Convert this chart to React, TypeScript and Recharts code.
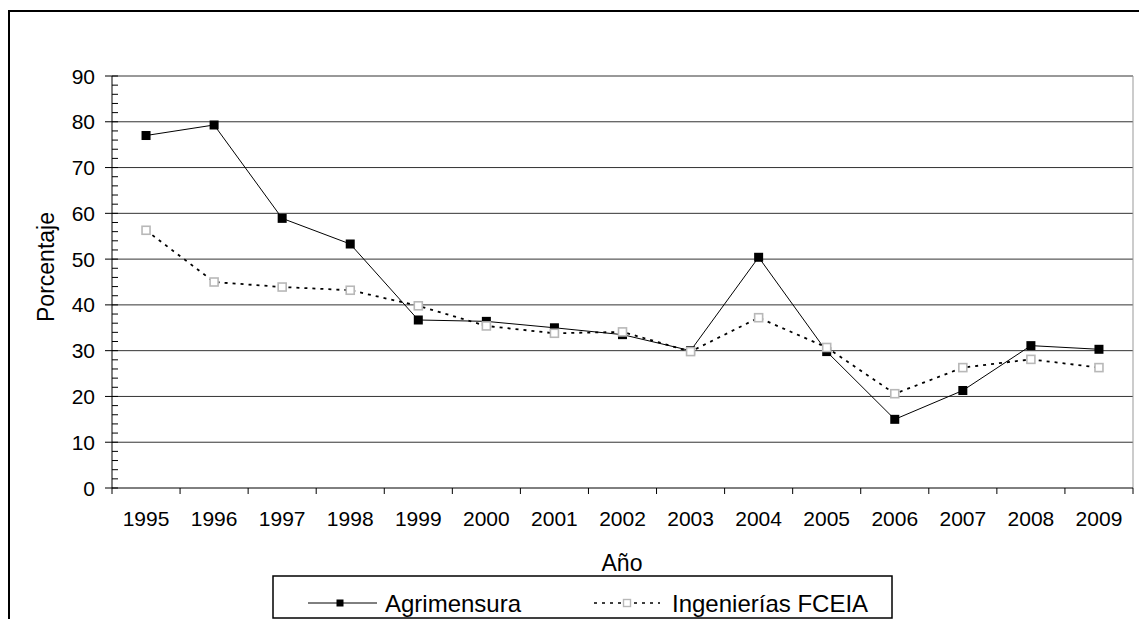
import { Line, LineChart, ReferenceLine, XAxis, YAxis } from "recharts";

const years = ["1995", "1996", "1997", "1998", "1999", "2000", "2001", "2002", "2003", "2004", "2005", "2006", "2007", "2008", "2009"];
const agrimensura = [77, 79.3, 58.9, 53.3, 36.7, 36.4, 35, 33.5, 30, 50.4, 29.8, 15, 21.3, 31.1, 30.3];
const ingenierias = [56.3, 45, 43.9, 43.2, 39.8, 35.4, 33.8, 34.1, 29.8, 37.2, 30.7, 20.6, 26.3, 28.1, 26.3];
const yTicks = [0, 10, 20, 30, 40, 50, 60, 70, 80, 90];
const minorTicks = Array.from({ length: 46 }, (_, i) => i * 2);
const xTicks = Array.from({ length: 31 }, (_, i) => i / 2);

const data = years.map((year, i) => ({ x: i + 0.5, year, agr: agrimensura[i], ing: ingenierias[i] }));

const font = "'Liberation Sans', Arial, sans-serif";

const FilledSquare = (props: any) => (
  <rect key={`a-${props.index}`} x={props.cx - 4.5} y={props.cy - 4.5} width={9} height={9} fill="#000" />
);
const HollowSquare = (props: any) => (
  <rect key={`i-${props.index}`} x={props.cx - 4} y={props.cy - 4} width={8} height={8} fill="#fff" stroke="#b8b8b8" strokeWidth={1.6} />
);

// y axis: major ticks (10s) get label + outer tick, minor ticks (2s) an inner tick
const YTick = (props: any) => {
  const { x, y, payload } = props;
  const v = payload.value;
  if (v % 10 === 0) {
    return (
      <g>
        <line x1={x - 7} x2={x + 6} y1={y} y2={y} stroke="#000" />
        <text x={x - 17} y={y} textAnchor="end" dominantBaseline="central" fontSize={21} fontFamily={font} fill="#000">{v}</text>
      </g>
    );
  }
  return <line x1={x} x2={x + 6} y1={y} y2={y} stroke="#000" />;
};

// x axis: tick marks between categories, year labels in the middle
const XTick = (props: any) => {
  const { x, y, payload } = props;
  const v = payload.value;
  if (Number.isInteger(v)) return <line x1={x} x2={x} y1={y} y2={y + 6} stroke="#000" />;
  return (
    <text x={x} y={y + 23} dy="0.71em" textAnchor="middle" fontSize={21} fontFamily={font} fill="#000">{years[Math.floor(v)]}</text>
  );
};

export default function App() {
  return (
    <div style={{ position: "relative", width: 1139, height: 619, fontFamily: font }}>
      <style>{`body{margin:0;overflow:hidden}`}</style>
      <div style={{ position: "absolute", left: 8, top: 10, width: 1140, height: 620, borderTop: "2px solid #000", borderLeft: "2px solid #000" }} />
      <div style={{ position: "absolute", left: 0, top: 0 }}>
        <LineChart width={1139} height={619} data={data} margin={{ top: 76, right: 6, bottom: 90, left: 0 }}>
          {yTicks.filter((v) => v > 0).map((v) => (
            <ReferenceLine key={v} y={v} stroke="#333" />
          ))}
          <ReferenceLine x={15} stroke="#999" />
          <XAxis dataKey="x" type="number" domain={[0, 15]} ticks={xTicks} interval={0} tickSize={0} tickMargin={0} height={41} axisLine={{ stroke: "#000" }} tickLine={false} tick={XTick} />
          <YAxis domain={[0, 90]} ticks={minorTicks} interval={0} width={112} tickSize={0} tickMargin={0} axisLine={{ stroke: "#000" }} tickLine={false} tick={YTick} />
          <Line dataKey="agr" stroke="#000" strokeWidth={1} dot={FilledSquare} activeDot={false} isAnimationActive={false} />
          <Line dataKey="ing" stroke="#000" strokeWidth={1.8} strokeDasharray="3 5" dot={HollowSquare} activeDot={false} isAnimationActive={false} />
        </LineChart>
      </div>
      <svg width={1139} height={619} style={{ position: "absolute", left: 0, top: 0, pointerEvents: "none" }}>
        <text x={46} y={267} transform="rotate(-90 46 267)" textAnchor="middle" dominantBaseline="central" fontSize={23} fontFamily={font} fill="#000">Porcentaje</text>
        <text x={622} y={563} textAnchor="middle" dominantBaseline="central" fontSize={23} fontFamily={font} fill="#000">Año</text>
        <rect x={273} y={576} width={619} height={42} fill="#fff" stroke="#000" strokeWidth={1.5} />
        <line x1={308} x2={377} y1={603} y2={603} stroke="#000" strokeWidth={1} />
        <rect x={336.5} y={599.5} width={7} height={7} fill="#000" />
        <text x={385} y={603} dominantBaseline="central" fontSize={24} fontFamily={font} fill="#000">Agrimensura</text>
        <line x1={594} x2={660} y1={603} y2={603} stroke="#000" strokeWidth={1.5} strokeDasharray="3 5" />
        <rect x={623.5} y={599.5} width={7} height={7} fill="#fff" stroke="#b8b8b8" strokeWidth={1.4} />
        <text x={672} y={603} dominantBaseline="central" fontSize={24} fontFamily={font} fill="#000">Ingenierías FCEIA</text>
      </svg>
    </div>
  );
}
